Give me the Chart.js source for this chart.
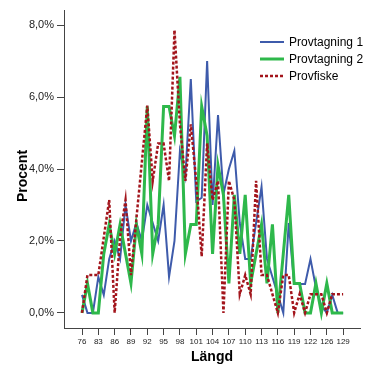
<!DOCTYPE html>
<html>
<head>
<meta charset="utf-8">
<script src="https://cdn.jsdelivr.net/npm/chart.js@4"></script>
<style>
  html, body { margin: 0; padding: 0; background: #fff; }
  #wrap { width: 373px; height: 373px; }
</style>
</head>
<body>
<div id="wrap"><canvas id="chart" width="373" height="373"></canvas></div>
<script>
// Length classes (x axis categories)
const categories = ['76', '80', '82', '83', '84', '85', '86', '87', '88', '89', '90', '91', '92', '93', '94',
  '95', '96', '97', '98', '99', '100', '101', '102', '103', '104', '105', '106', '107', '108', '109',
  '110', '111', '112', '113', '114', '115', '116', '117', '118', '119', '120', '121', '122', '123',
  '124', '126', '127', '128', '129'];

const seriesNames = ['Provtagning 1', 'Provtagning 2', 'Provfiske'];

// Percent per length class
const provtagning1 = [0.5, 0, 0, 1.0, 0.5, 1.5, 2.0, 1.5, 3.0, 2.0, 2.5, 2.0, 3.0, 2.5, 2.0, 3.0, 1.0,
  2.0, 4.5, 3.8, 6.5, 3.1, 3.2, 7.0, 3.0, 5.5, 3.3, 4.0, 4.5, 2.5, 1.5, 1.5, 2.5, 3.5, 1.5, 1.0, 0.5,
  0, 2.5, 0.8, 0.8, 0.8, 1.5, 0.7, 0.2, 0, 0.5, 0, 0];
const provtagning2 = [0, 0.82, 0, 0, 1.64, 2.46, 1.64, 2.46, 1.64, 0.82, 2.46, 1.64, 5.74, 1.64, 2.46,
  5.74, 5.74, 4.92, 6.56, 1.64, 2.46, 2.46, 5.74, 4.92, 1.64, 4.1, 3.28, 0.82, 3.28, 1.64, 3.28, 0.82,
  1.64, 2.46, 0.82, 2.46, 0, 1.64, 3.28, 0.82, 0.82, 0, 0, 0.82, 0, 0.82, 0, 0, 0];
const provfiske = [0, 1.05, 1.05, 1.05, 2.1, 3.14, 0, 2.1, 3.14, 1.05, 2.62, 4.19, 5.76, 3.67, 4.71,
  4.71, 3.67, 7.86, 5.24, 3.67, 5.24, 3.67, 1.57, 4.71, 3.14, 3.67, 0, 3.67, 3.14, 0.52, 1.05, 0.52,
  3.67, 1.05, 1.05, 0.52, 0, 1.05, 1.05, 0, 0.52, 0, 0.52, 0.52, 0.52, 0, 0.52, 0.52, 0.52];

const yTicks = [0, 2, 4, 6, 8];
const xTickStep = 3;

const colors = ['#3e5bab', '#2eb84b', '#a3151c'];
const widths = [2, 3, 2.5];
const dashes = [[], [], [3, 2]];

const FONT = "'Liberation Sans', Arial, sans-serif";
Chart.defaults.font.family = FONT;

const toPoints = arr => arr.map((v, i) => ({ x: i, y: v }));

// Axis titles and the legend inside the plot
const overlay = {
  id: 'overlay',
  afterDraw(chart) {
    const ctx = chart.ctx;
    ctx.save();
    ctx.fillStyle = '#000';
    ctx.font = 'bold 14px ' + FONT;
    ctx.textAlign = 'center';
    ctx.textBaseline = 'middle';
    ctx.fillText('Längd', (chart.chartArea.left + chart.chartArea.right) / 2, 357);
    ctx.translate(23, 176);
    ctx.rotate(-Math.PI / 2);
    ctx.fillText('Procent', 0, 0);
    ctx.restore();

    ctx.save();
    ctx.font = '12px ' + FONT;
    ctx.textAlign = 'left';
    ctx.textBaseline = 'middle';
    seriesNames.forEach((name, i) => {
      const y = 42 + i * 17;
      ctx.strokeStyle = colors[i];
      ctx.lineWidth = widths[i];
      ctx.setLineDash(dashes[i]);
      ctx.beginPath();
      ctx.moveTo(260, y);
      ctx.lineTo(284, y);
      ctx.stroke();
      ctx.fillStyle = '#000';
      ctx.fillText(name, 289, y + 0.5);
    });
    ctx.restore();
  }
};

const allSeries = [provtagning1, provtagning2, provfiske];

new Chart(document.getElementById('chart'), {
  type: 'line',
  data: {
    datasets: allSeries.map((s, i) => ({
      label: seriesNames[i],
      data: toPoints(s),
      borderColor: colors[i],
      borderWidth: widths[i],
      borderDash: dashes[i],
      pointRadius: 0,
      tension: 0,
      fill: false,
      order: 2 - i
    }))
  },
  options: {
    responsive: false,
    animation: false,
    layout: { padding: { top: 10, right: 13, left: 0, bottom: 0 } },
    plugins: {
      legend: { display: false },
      tooltip: { enabled: false }
    },
    scales: {
      x: {
        type: 'linear',
        min: -3.31,
        max: 51.1,
        afterBuildTicks: scale => {
          scale.ticks = categories.map((c, i) => i).filter(i => i % xTickStep === 0).map(v => ({ value: v }));
        },
        afterFit: scale => { scale.height = 45; },
        grid: { drawOnChartArea: false, tickLength: 7, color: '#444' },
        border: { display: true, color: '#444', width: 1 },
        ticks: {
          color: '#222',
          font: { size: 8 },
          padding: 2,
          maxRotation: 0,
          autoSkip: false,
          callback: v => categories[v]
        }
      },
      y: {
        min: -0.42,
        max: 8.42,
        afterBuildTicks: scale => {
          scale.ticks = yTicks.map(v => ({ value: v }));
        },
        afterFit: scale => { scale.width = 64; },
        grid: { drawOnChartArea: false, tickLength: 7, color: '#444' },
        border: { display: true, color: '#444', width: 1 },
        ticks: {
          color: '#222',
          font: { size: 11 },
          padding: 3,
          callback: v => v.toFixed(1).replace('.', ',') + '%'
        }
      }
    }
  },
  plugins: [overlay]
});
</script>
</body>
</html>
